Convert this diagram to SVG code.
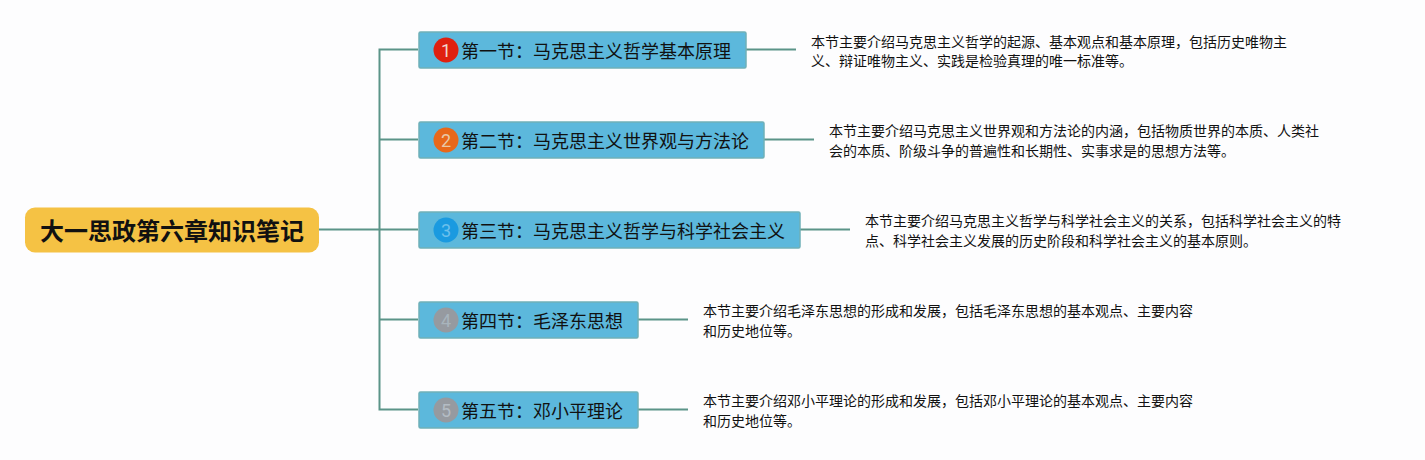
<svg xmlns="http://www.w3.org/2000/svg" width="1425" height="460" viewBox="0 0 1425 460">
<style>
text{font-family:"Noto Sans CJK SC","Noto Sans",sans-serif;fill:#111}
.root{font-size:24px;font-weight:700}
.box{fill:#5cb8dc;stroke:#6fb0b8;stroke-width:1.5}
.t{font-size:18px}
.d{font-size:14px}
.n{font-family:"Roboto",sans-serif;font-size:18px;text-anchor:middle}
.c{fill:none;stroke:#5b9488;stroke-width:2}
</style>
<rect width="1425" height="460" fill="#fdfdfe"/>
<g id="connectors">
<path class="c" d="M319 229.500H418M379.500 229.500V49.500H418M379.500 139.500H418M379.500 229.500V409.500H418M379.500 319.500H418"/>
<path class="c" d="M746 49.500H796M764 139.500H814M800 229.500H850M638 319.500H688M638 409.500H688"/>
</g>
<g id="root"><rect x="25" y="207.500" width="294" height="45" rx="10" fill="#f5c244"/><text class="root" x="40" y="240">大一思政第六章知识笔记</text></g>
<g id="n1"><rect class="box" x="419" y="32" width="327" height="36" rx="1.500"/><circle cx="446" cy="50" r="12.500" fill="#e0200f"/><text class="n" x="446" y="56.500" style="fill:#f0d8d0">1</text><text class="t" x="461" y="57.500">第一节：马克思主义哲学基本原理</text></g>
<g id="n2"><rect class="box" x="419" y="122" width="345" height="36" rx="1.500"/><circle cx="446" cy="140" r="12.500" fill="#e8681a"/><text class="n" x="446" y="146.500" style="fill:#e8c8a8">2</text><text class="t" x="461" y="147.500">第二节：马克思主义世界观与方法论</text></g>
<g id="n3"><rect class="box" x="419" y="212" width="381" height="36" rx="1.500"/><circle cx="446" cy="230" r="12.500" fill="#1a9ae0"/><text class="n" x="446" y="236.500" style="fill:#6cc0ec">3</text><text class="t" x="461" y="237.500">第三节：马克思主义哲学与科学社会主义</text></g>
<g id="n4"><rect class="box" x="419" y="302" width="219" height="36" rx="1.500"/><circle cx="446" cy="320" r="12.500" fill="#969aa0"/><text class="n" x="446" y="326.500" style="fill:#a8b4bc">4</text><text class="t" x="461" y="327.500">第四节：毛泽东思想</text></g>
<g id="n5"><rect class="box" x="419" y="392" width="219" height="36" rx="1.500"/><circle cx="446" cy="410" r="12.500" fill="#969aa0"/><text class="n" x="446" y="416.500" style="fill:#b4bcc4">5</text><text class="t" x="461" y="417.500">第五节：邓小平理论</text></g>
<g id="d1"><text class="d" x="811" y="46.500">本节主要介绍马克思主义哲学的起源、基本观点和基本原理，包括历史唯物主</text><text class="d" x="811" y="66">义、辩证唯物主义、实践是检验真理的唯一标准等。</text></g>
<g id="d2"><text class="d" x="829" y="136">本节主要介绍马克思主义世界观和方法论的内涵，包括物质世界的本质、人类社</text><text class="d" x="829" y="156">会的本质、阶级斗争的普遍性和长期性、实事求是的思想方法等。</text></g>
<g id="d3"><text class="d" x="865" y="226">本节主要介绍马克思主义哲学与科学社会主义的关系，包括科学社会主义的特</text><text class="d" x="865" y="246">点、科学社会主义发展的历史阶段和科学社会主义的基本原则。</text></g>
<g id="d4"><text class="d" x="703" y="316">本节主要介绍毛泽东思想的形成和发展，包括毛泽东思想的基本观点、主要内容</text><text class="d" x="703" y="336">和历史地位等。</text></g>
<g id="d5"><text class="d" x="703" y="406">本节主要介绍邓小平理论的形成和发展，包括邓小平理论的基本观点、主要内容</text><text class="d" x="703" y="426">和历史地位等。</text></g>
</svg>
